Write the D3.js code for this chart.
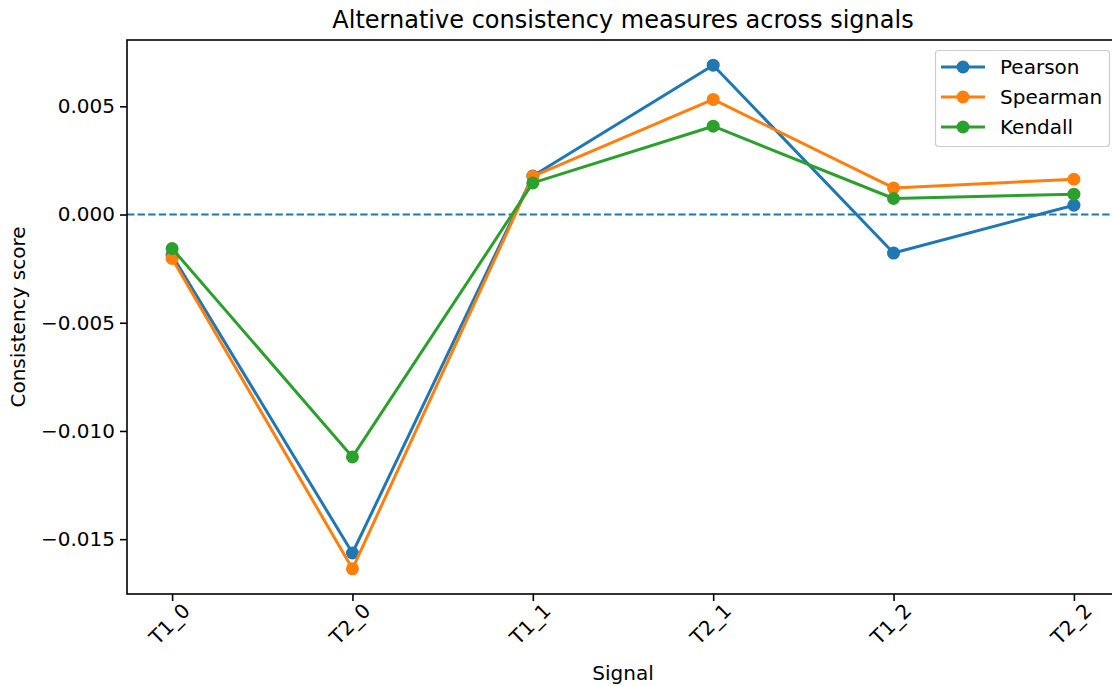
<!DOCTYPE html>
<html><head><meta charset="utf-8">
<script src="https://cdn.jsdelivr.net/npm/d3@7"></script>
<style>body{margin:0;background:#fff}svg{display:block}text{font-family:"DejaVu Sans",sans-serif;fill:#000}</style>
</head><body><svg id="c" width="1112" height="686"></svg>
<script>
const categories = ["T1_0","T2_0","T1_1","T2_1","T1_2","T2_2"];
const pearson  = [-0.00188,-0.01564,0.00178,0.00690,-0.00178,0.00043];
const spearman = [-0.00203,-0.01637,0.00176,0.00532,0.00123,0.00163];
const kendall  = [-0.00157,-0.01120,0.00146,0.00408,0.00074,0.00094];
const seriesNames = ["Pearson","Spearman","Kendall"];
const colors = ["#1f77b4","#ff7f0e","#2ca02c"];
const yTicks = [-0.015,-0.010,-0.005,0.000,0.005];

const series = [pearson, spearman, kendall];
const svg = d3.select("#c");
const L=127, R=1119, T=40, B=594;
const n = categories.length;
const x = d3.scaleLinear().domain([-0.25, n-1+0.25]).range([L,R]);
const all = series.flat();
const mn = d3.min(all), mx = d3.max(all), pad=(mx-mn)*0.05;
const y = d3.scaleLinear().domain([mn-pad, mx+pad]).range([B,T]);

// zero line
svg.append("line").attr("x1",L).attr("x2",R).attr("y1",y(0)).attr("y2",y(0))
  .attr("stroke","#1f77b4").attr("stroke-width",2).attr("stroke-dasharray","7.4,3.2");

const line = d3.line().x((d,i)=>x(i)).y(d=>y(d));
series.forEach((s,k)=>{
  svg.append("path").datum(s).attr("d",line).attr("fill","none")
    .attr("stroke",colors[k]).attr("stroke-width",3).attr("stroke-linejoin","round");
  svg.selectAll(null).data(s).enter().append("circle")
    .attr("cx",(d,i)=>x(i)).attr("cy",d=>y(d)).attr("r",6.5).attr("fill",colors[k]);
});

// axes
const xAxis = d3.axisBottom(x).tickValues(d3.range(n)).tickFormat(i=>categories[i]).tickSize(7).tickPadding(4);
const gx = svg.append("g").attr("transform",`translate(0,${B})`).call(xAxis);
gx.select(".domain").remove();
gx.selectAll(".tick line").attr("stroke","#000").attr("stroke-width",1.6);
gx.selectAll(".tick text").attr("font-size",20).attr("text-anchor","middle")
  .attr("dy",null).attr("y",null)
  .attr("transform","translate(-2,31) rotate(-45)").attr("dominant-baseline","middle");

const yAxis = d3.axisLeft(y).tickValues(yTicks).tickFormat(d=>d3.format(".3f")(d).replace("-","\u2212")).tickSize(7).tickPadding(5);
const gy = svg.append("g").attr("transform",`translate(${L},0)`).call(yAxis);
gy.select(".domain").remove();
gy.selectAll(".tick line").attr("stroke","#000").attr("stroke-width",1.6);
gy.selectAll(".tick text").attr("font-size",20);

// spines
svg.append("rect").attr("x",L).attr("y",T).attr("width",R-L).attr("height",B-T)
  .attr("fill","none").attr("stroke","#000").attr("stroke-width",1.6);

// labels
svg.append("text").attr("x",(L+R)/2).attr("y",28).attr("text-anchor","middle").attr("font-size",24)
  .text("Alternative consistency measures across signals");
svg.append("text").attr("x",(L+R)/2).attr("y",680).attr("text-anchor","middle").attr("font-size",20).text("Signal");
svg.append("text").attr("transform",`translate(25,${(T+B)/2}) rotate(-90)`).attr("text-anchor","middle")
  .attr("font-size",20).text("Consistency score");

// legend
const lg = svg.append("g");
lg.append("rect").attr("x",935.5).attr("y",50.5).attr("width",174).attr("height",96).attr("rx",3)
  .attr("fill","#fff").attr("fill-opacity",0.8).attr("stroke","#ccc").attr("stroke-width",1.2);
seriesNames.forEach((nm,k)=>{
  const yy = 67 + k*30;
  lg.append("line").attr("x1",941).attr("x2",985).attr("y1",yy).attr("y2",yy).attr("stroke",colors[k]).attr("stroke-width",3);
  lg.append("circle").attr("cx",963).attr("cy",yy).attr("r",6.5).attr("fill",colors[k]);
  lg.append("text").attr("x",1000).attr("y",yy).attr("dy","0.35em").attr("font-size",20).text(nm);
});
</script></body></html>
